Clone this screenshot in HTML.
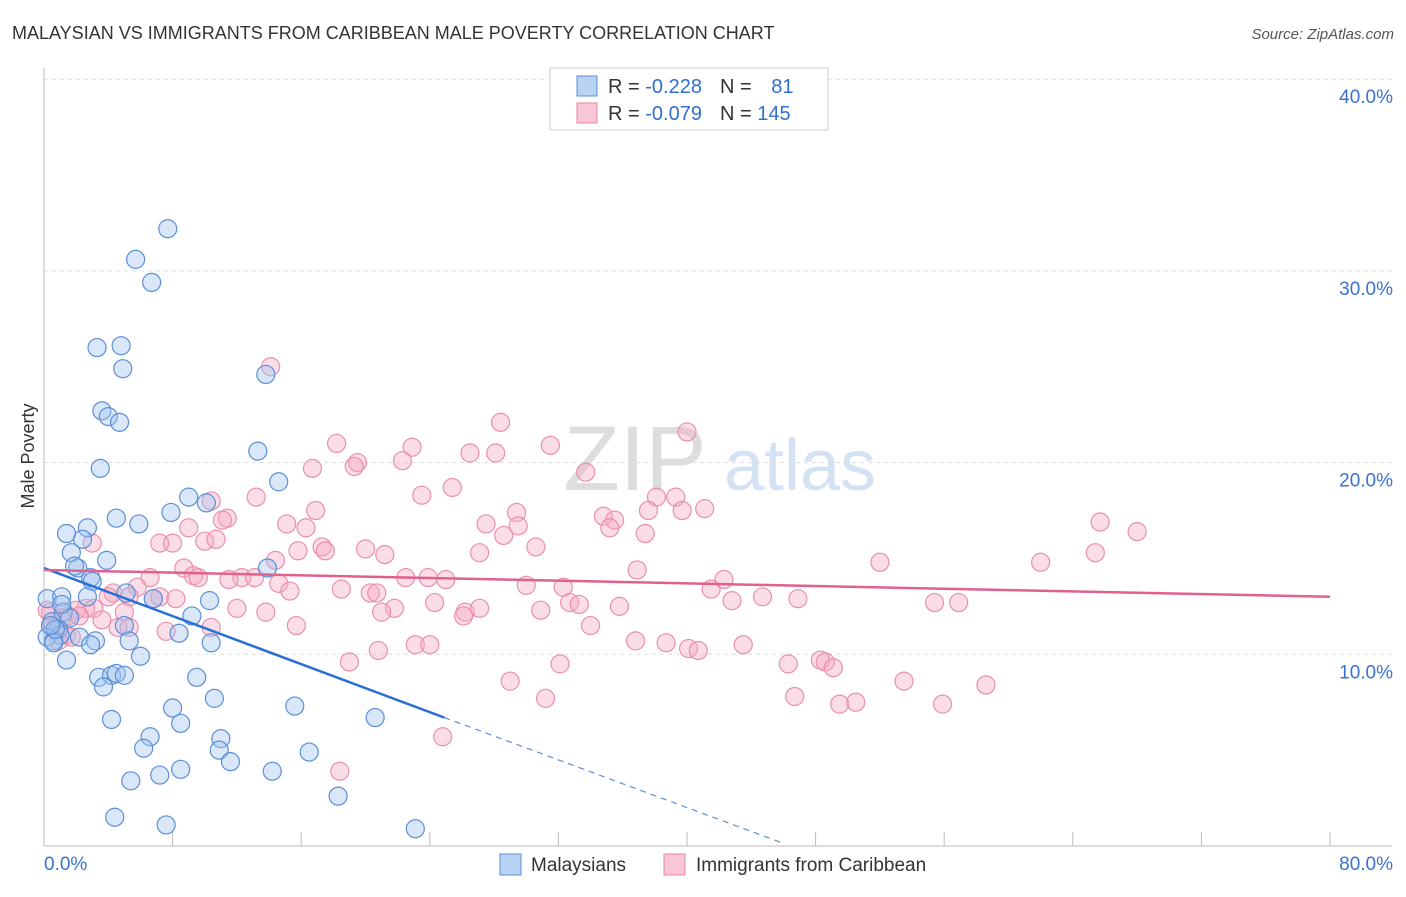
<!DOCTYPE html>
<html><head><meta charset="utf-8"><style>
body{margin:0;background:#fff;font-family:"Liberation Sans",sans-serif}
svg text{font-family:"Liberation Sans",sans-serif}
</style></head><body>
<svg id="c" width="1406" height="892">
<text x="12" y="39" font-size="18" fill="#333">MALAYSIAN VS IMMIGRANTS FROM CARIBBEAN MALE POVERTY CORRELATION CHART</text>
<text x="1394" y="39" font-size="15" fill="#555" font-style="italic" text-anchor="end">Source: ZipAtlas.com</text>
<text x="34" y="456" font-size="18" fill="#333" text-anchor="middle" transform="rotate(-90 34 456)">Male Poverty</text>
<g><text x="635" y="490" font-size="92" fill="#ddd" text-anchor="middle" font-family="Liberation Serif">ZIP</text><text x="800" y="490" font-size="72" fill="#d4e2f4" text-anchor="middle">atlas</text></g>
<g id="grid"></g><g id="pts"></g><g id="lines"></g>
<g>
<rect x="550" y="68" width="278" height="62" fill="#fff" stroke="#ccc"/>
<rect x="577" y="76" width="20" height="20" fill="#b9d3f5" stroke="#5b8fd6"/>
<rect x="577" y="103" width="20" height="20" fill="#f9c6d5" stroke="#e887a6"/>
<text x="608" y="93" font-size="20" fill="#333">R = <tspan fill="#2f6fd0">-0.228</tspan><tspan dx="18">N = </tspan><tspan fill="#2f6fd0" dx="14">81</tspan></text>
<text x="608" y="120" font-size="20" fill="#333">R = <tspan fill="#2f6fd0">-0.079</tspan><tspan dx="18">N = </tspan><tspan fill="#2f6fd0">145</tspan></text>
</g>
<g>
<rect x="500" y="854" width="21" height="21" fill="#b9d3f5" stroke="#5b8fd6"/><text x="531" y="871" font-size="19" fill="#333">Malaysians</text>
<rect x="664" y="854" width="21" height="21" fill="#f9c6d5" stroke="#e887a6"/><text x="696" y="871" font-size="19" fill="#333">Immigrants from Caribbean</text>
</g>
</svg>
<script>
const yTicks=[10,20,30,40];
const xTickLabels=["0.0%","80.0%"];
const blueX=[7.7,5.7,6.7,3.3,4.8,4.9,13.8,3.6,4.0,4.7,13.3,3.5,14.6,9.0,10.1,4.5,5.9,7.9,1.4,2.7,2.4,1.7,2.1,1.9,3.9,13.9,2.9,3.0,0.2,1.1,2.7,5.1,6.8,10.3,1.2,1.6,9.2,0.5,0.9,1.0,0.2,0.6,0.6,2.2,3.2,2.9,5.0,5.3,8.4,10.4,1.4,6.0,3.4,4.2,4.5,5.0,9.5,3.7,8.0,10.6,15.6,4.2,8.5,20.6,6.6,6.2,11.0,10.9,11.6,16.5,8.5,7.2,5.4,14.2,18.3,4.4,7.6,23.1,0.7,0.4,1.1];
const blueY=[32.2,30.6,29.4,26.0,26.1,24.9,24.6,22.7,22.4,22.1,20.6,19.7,19.0,18.2,17.9,17.1,16.8,17.4,16.3,16.6,16.0,15.3,14.5,14.6,14.9,14.5,14.0,13.8,12.9,13.0,13.0,13.2,12.9,12.8,12.2,11.9,12.0,11.7,11.3,11.0,10.9,10.7,10.6,10.9,10.7,10.5,11.5,10.7,11.1,10.6,9.7,9.9,8.8,8.9,9.0,8.9,8.8,8.3,7.2,7.7,7.3,6.6,6.4,6.7,5.7,5.1,5.6,5.0,4.4,4.9,4.0,3.7,3.4,3.9,2.6,1.5,1.1,0.9,11.3,11.5,12.6];
const pinkX=[14.1,28.4,40.0,18.2,22.9,31.5,26.5,28.1,19.5,19.3,22.3,16.7,33.7,25.4,23.5,38.1,39.3,10.4,13.2,37.6,39.7,41.1,16.9,29.4,11.4,11.1,15.1,16.3,27.5,29.5,34.8,35.5,35.2,65.7,68.0,9.0,28.6,37.4,7.2,8.0,10.0,10.7,3.0,17.3,15.8,30.6,20.0,17.5,21.2,27.1,65.4,14.4,52.0,62.0,8.7,6.6,9.3,9.6,36.9,12.3,13.1,11.5,14.6,22.5,23.9,25.0,42.3,30.0,32.3,18.5,15.3,20.3,20.7,5.8,4.3,4.0,7.2,6.8,8.2,5.3,41.5,44.7,46.9,32.7,33.3,35.8,42.8,24.3,21.8,12.0,13.8,21.0,2.6,3.1,2.0,1.1,1.5,2.2,0.4,26.2,27.1,26.1,30.9,3.6,5.0,55.4,56.9,0.5,0.7,1.4,1.7,4.6,5.3,7.6,10.4,15.7,34.0,36.8,38.7,23.1,24.0,40.1,40.7,43.5,20.8,19.0,32.1,46.3,48.3,48.6,49.1,29.0,53.5,58.6,31.2,46.7,49.5,50.5,55.9,24.8,18.4,0.2,0.9];
const pinkY=[25.0,22.1,21.6,21.0,20.8,20.9,20.5,20.5,20.0,19.8,20.1,19.7,19.5,18.7,18.3,18.2,18.2,18.0,18.2,17.5,17.5,17.6,17.5,17.4,17.1,17.0,16.8,16.6,16.8,16.7,17.2,17.0,16.6,16.9,16.4,16.6,16.2,16.3,15.8,15.8,15.9,16.0,15.8,15.6,15.4,15.6,15.5,15.4,15.2,15.3,15.3,14.9,14.8,14.8,14.5,14.0,14.1,14.0,14.4,14.0,14.0,13.9,13.7,14.0,14.0,13.9,13.9,13.6,13.5,13.4,13.3,13.2,13.2,13.5,13.2,13.0,13.0,12.9,12.9,13.0,13.4,13.0,12.9,12.7,12.6,12.5,12.8,12.7,12.4,12.4,12.2,12.2,12.4,12.4,12.3,11.9,12.0,12.0,12.2,12.2,12.4,12.0,12.3,11.8,12.2,12.7,12.7,11.5,11.4,11.0,10.9,11.4,11.4,11.2,11.4,11.5,11.5,10.7,10.6,10.5,10.5,10.3,10.2,10.5,10.2,9.6,9.5,9.5,9.7,9.6,9.3,8.6,8.6,8.4,7.7,7.8,7.4,7.5,7.4,5.7,3.9,12.3,10.7];
const blueTrendX=[0,24.9,45.8];
const blueTrendY=[14.5,6.7,0.2];
const pinkTrendX=[0,80];
const pinkTrendY=[14.4,13.0];
const NS="http://www.w3.org/2000/svg";
const sx=v=>44+v*1286/80, sy=v=>846-v*19.17;
function mk(tag,at,parent){const e=document.createElementNS(NS,tag);for(const k in at)e.setAttribute(k,at[k]);parent.appendChild(e);return e;}
const grid=document.getElementById('grid');
const ax=mk('line',{x1:44,y1:68,x2:44,y2:846,stroke:'#bbb'},grid);


const bx=mk('line',{x1:44,y1:846,x2:1392,y2:846,stroke:'#bbb'},grid);


yTicks.forEach(t=>{
 const l=mk('line',{x1:44,y1:sy(t),x2:1392,y2:sy(t),stroke:'#ddd','stroke-dasharray':'4,4'},grid);
 
 
 const tx=mk('text',{x:1393,y:sy(t)+24,'font-size':19,fill:'#3a72cf','text-anchor':'end'},grid);
 tx.textContent=t.toFixed(1)+'%';
 
 
});
for(let i=0;i<=10;i++){
 const l=mk('line',{x1:sx(i*8),y1:832,x2:sx(i*8),y2:846,stroke:'#bbb'},grid);
 
 
}
[[44,'start',0],[1393,'end',1]].forEach(([x,a,i])=>{
 const tx=mk('text',{x:x,y:870,'font-size':19,fill:'#3a72cf','text-anchor':a},grid);
 tx.textContent=xTickLabels[i];
 
 
});
const pts=document.getElementById('pts');
pinkX.forEach((x,i)=>{
 const c=mk('circle',{cx:sx(x),cy:sy(pinkY[i]),r:9,fill:'rgba(244,170,195,0.4)',stroke:'#ea8fae','stroke-width':1.2},pts);
 
 
});
blueX.forEach((x,i)=>{
 const c=mk('circle',{cx:sx(x),cy:sy(blueY[i]),r:9,fill:'rgba(160,195,240,0.4)',stroke:'#5b8fd6','stroke-width':1.2},pts);
 
 
});
const lines=document.getElementById('lines');
const b1=mk('line',{x1:sx(blueTrendX[0]),y1:sy(blueTrendY[0]),x2:sx(blueTrendX[1]),y2:sy(blueTrendY[1]),stroke:'#2a6fd6','stroke-width':2.5},lines);


const b2=mk('line',{x1:sx(blueTrendX[1]),y1:sy(blueTrendY[1]),x2:sx(blueTrendX[2]),y2:sy(blueTrendY[2]),stroke:'#5b8fd6','stroke-width':1.2,'stroke-dasharray':'6,5'},lines);


const p1=mk('line',{x1:sx(pinkTrendX[0]),y1:sy(pinkTrendY[0]),x2:sx(pinkTrendX[1]),y2:sy(pinkTrendY[1]),stroke:'#e0608f','stroke-width':2.5},lines);


</script>
</body></html>
